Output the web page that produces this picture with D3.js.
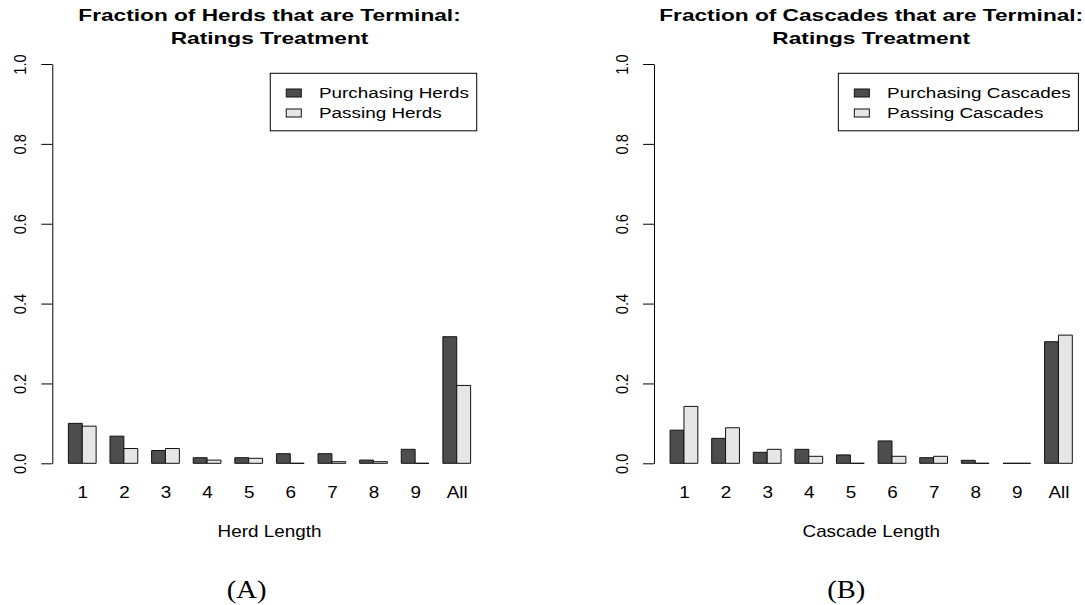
<!DOCTYPE html>
<html>
<head>
<meta charset="utf-8">
<script src="https://cdn.jsdelivr.net/npm/d3@7"></script>
<style>
  body { margin: 0; background: #fff; }
  svg { display: block; }
  text { font-family: "Liberation Sans", Arial, Helvetica, sans-serif; fill: #000; }
</style>
</head>
<body>
<svg id="fig" width="1085" height="605"></svg>
<script>
// Bar groups (run length) and the terminal fractions per treatment
const lengthGroups = ["1", "2", "3", "4", "5", "6", "7", "8", "9", "All"];
const herdPurchasing = [0.100, 0.068, 0.032, 0.014, 0.014, 0.024, 0.024, 0.008, 0.035, 0.317];
const herdPassing = [0.093, 0.037, 0.037, 0.008, 0.0125, 0, 0.004, 0.004, 0, 0.195];
const cascadePurchasing = [0.083, 0.0625, 0.0275, 0.035, 0.021, 0.056, 0.014, 0.0075, 0, 0.3045];
const cascadePassing = [0.1425, 0.089, 0.035, 0.0175, 0, 0.0175, 0.0175, 0, 0, 0.321];
const yTicks = [0, 0.2, 0.4, 0.6, 0.8, 1.0];

const seriesFill = ["#4d4d4d", "#e6e6e6"];
const UNIT = 13.87;          // width of one bar in px
const Y_BASE = 463.3, Y_TOP = 64;
const WIDE = 1.18;           // horizontal widening of the lettering

const panels = [
  {
    left: 52.3,
    title: ["Fraction of Herds that are Terminal:", "Ratings Treatment"],
    xLabel: "Herd Length",
    legend: ["Purchasing Herds", "Passing Herds"],
    series: [herdPurchasing, herdPassing],
    caption: "(A)", captionX: 246.7
  },
  {
    left: 654,
    title: ["Fraction of Cascades that are Terminal:", "Ratings Treatment"],
    xLabel: "Cascade Length",
    legend: ["Purchasing Cascades", "Passing Cascades"],
    series: [cascadePurchasing, cascadePassing],
    caption: "(B)", captionX: 846.3
  }
];

const svg = d3.select("#fig");

function drawPanel(p) {
  const g = svg.append("g");
  // R-style barplot coordinates: bars occupy units 1..30, range padded by 4%
  const x = d3.scaleLinear().domain([-0.16, 31.16]).range([p.left, p.left + 31.32 * UNIT]);
  const y = d3.scaleLinear().domain([0, 1]).range([Y_BASE, Y_TOP]);
  const cx = (x.range()[0] + x.range()[1]) / 2;

  // bars (paths so that zero-height bars still show as a baseline stroke)
  lengthGroups.forEach((name, gi) => {
    p.series.forEach((vals, si) => {
      const x0 = x(gi * 3 + 1 + si), x1 = x(gi * 3 + 2 + si);
      const y0 = y(0), y1 = y(vals[gi]);
      g.append("path")
        .attr("d", `M${x0},${y0}V${y1}H${x1}V${y0}Z`)
        .attr("fill", seriesFill[si])
        .attr("stroke", "#111")
        .attr("stroke-width", 1);
    });
  });

  // y axis
  const ya = g.append("g")
    .attr("transform", `translate(${p.left},0)`)
    .call(d3.axisLeft(y).tickValues(yTicks).tickFormat(d3.format(".1f"))
      .tickSize(11).tickSizeOuter(0));
  ya.select(".domain").attr("stroke", "#000");
  ya.selectAll(".tick line").attr("stroke", "#000");
  ya.selectAll(".tick text")
    .attr("x", null).attr("dy", null)
    .attr("transform", "translate(-26.3,0) rotate(-90) scale(1,1.15)")
    .attr("text-anchor", "middle")
    .style("font-size", "14.6px")
    .style("font-family", "'Liberation Sans', Arial, sans-serif")
    .attr("fill", "#000");

  // group names under the bars
  const xa = g.append("g")
    .attr("transform", `translate(0,${498 - 11.4})`)
    .call(d3.axisBottom(x).tickValues(lengthGroups.map((_, i) => i * 3 + 2))
      .tickFormat((d, i) => lengthGroups[i]).tickSize(0).tickPadding(0));
  xa.select(".domain").remove();
  xa.selectAll(".tick text")
    .attr("y", 0).attr("dy", "0.71em")
    .attr("transform", `scale(${WIDE},1)`)
    .style("font-size", "16px")
    .style("font-family", "'Liberation Sans', Arial, sans-serif")
    .attr("fill", "#000");

  // x axis title
  g.append("text")
    .attr("transform", `translate(${cx},536.7) scale(${WIDE},1)`)
    .attr("text-anchor", "middle")
    .style("font-size", "16px")
    .text(p.xLabel);

  // two-line bold title
  p.title.forEach((line, i) => {
    g.append("text")
      .attr("transform", `translate(${cx},${[20.7, 44][i]}) scale(1.31,1)`)
      .attr("text-anchor", "middle")
      .style("font-size", "17.3px")
      .style("font-weight", "bold")
      .text(line);
  });

  // legend, top-right inside the plot region
  const lg = g.append("g");
  const textW = [];
  const rowBase = [98.3, 118.3];
  const rowMid = [93, 113];
  const legendRight = x.range()[1] - 10;
  const items = p.legend.map((label, i) => {
    const t = lg.append("text")
      .style("font-size", "15px")
      .text(label);
    textW.push(t.node().getComputedTextLength() * 1.26);
    return t;
  });
  const boxW = 48.7 + d3.max(textW) + 7.5;
  const boxL = legendRight - boxW;
  lg.insert("rect", ":first-child")
    .attr("x", boxL).attr("y", 73.3)
    .attr("width", boxW).attr("height", 57.5)
    .attr("fill", "#fff").attr("stroke", "#000").attr("stroke-width", 1);
  items.forEach((t, i) => {
    t.attr("transform", `translate(${boxL + 48.7},${rowBase[i]}) scale(1.26,1)`);
    lg.append("rect")
      .attr("x", boxL + 16).attr("y", rowMid[i] - 4)
      .attr("width", 15).attr("height", 8)
      .attr("fill", seriesFill[i]).attr("stroke", "#111").attr("stroke-width", 1);
  });

  // panel caption
  g.append("text")
    .attr("transform", `translate(${p.captionX},598.3) scale(1.1,1)`)
    .attr("text-anchor", "middle")
    .style("font-family", "'Liberation Serif', 'Times New Roman', serif")
    .style("font-size", "26px")
    .text(p.caption);
}

panels.forEach(drawPanel);
</script>
</body>
</html>
